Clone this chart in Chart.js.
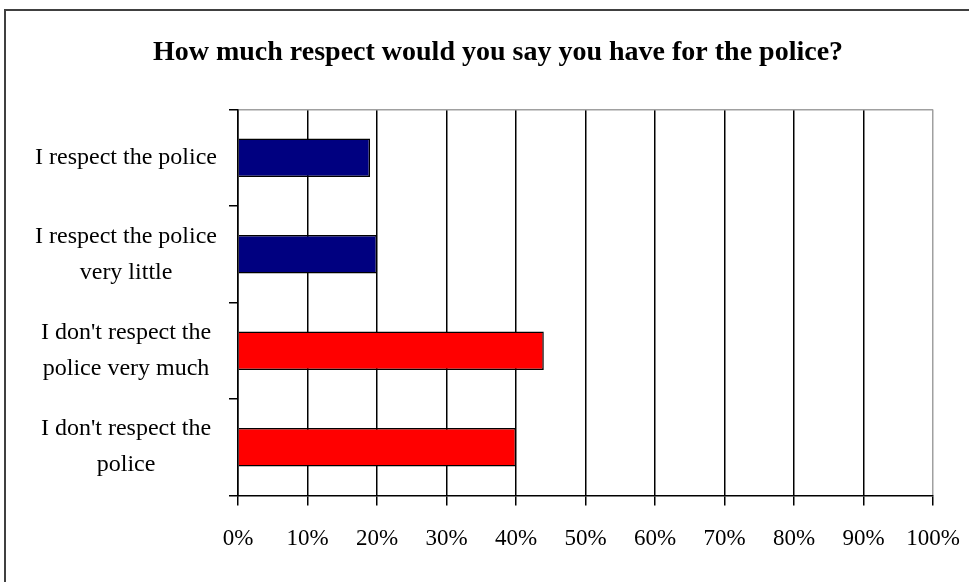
<!DOCTYPE html>
<html><head><meta charset="utf-8">
<script src="https://cdn.jsdelivr.net/npm/chart.js@4"></script>
<style>
html,body{margin:0;padding:0;background:#fff;width:969px;height:582px;overflow:hidden;}
#frame{position:absolute;left:4px;top:9px;width:1000px;height:600px;border-left:2px solid #404040;border-top:2px solid #404040;}
#wrap{position:absolute;left:0;top:0;width:969px;height:582px;}
</style></head><body>
<div id="frame"></div>
<div id="wrap"><canvas id="c" width="969" height="582"></canvas></div>
<script>
const titleText = 'How much respect would you say you have for the police?';
const categories = [
  ['I respect the police'],
  ['I respect the police', 'very little'],
  ["I don't respect the", 'police very much'],
  ["I don't respect the", 'police']
];
const values = [19, 20, 44, 40];
const xMin = 0, xMax = 100, xStep = 10;
const barColors = ['#000080', '#000080', '#FF0000', '#FF0000'];

// let the category labels use the space left of the axis box (no clipping)
const widenYAxis = {
  id: 'widenYAxis',
  afterLayout(chart) {
    const y = chart.scales.y;
    y.width += y.left;
    y.left = 0;
  }
};

new Chart(document.getElementById('c'), {
  type: 'bar',
  data: {
    labels: categories,
    datasets: [{
      data: values,
      backgroundColor: barColors,
      borderColor: '#000',
      borderWidth: 1.5,
      barPercentage: 0.4,
      categoryPercentage: 1
    }]
  },
  plugins: [widenYAxis],
  options: {
    indexAxis: 'y',
    responsive: false,
    animation: false,
    layout: { padding: { left: 63, right: 36, top: 0, bottom: 9 } },
    plugins: {
      legend: { display: false },
      tooltip: { enabled: false },
      title: {
        display: true,
        text: titleText,
        color: '#000',
        font: { family: 'Liberation Serif', size: 28, weight: 'bold', lineHeight: 1.2 },
        padding: { top: 36, bottom: 40 }
      }
    },
    scales: {
      x: {
        min: xMin, max: xMax,
        afterFit: s => { s.paddingRight = 0; s.paddingLeft = 0; },
        ticks: {
          stepSize: xStep,
          callback: v => v + '%',
          color: '#000',
          padding: 20,
          font: { family: 'Liberation Serif', size: 23, lineHeight: 1.2 }
        },
        grid: {
          color: ctx => (ctx.tick && ctx.tick.value === xMax) ? '#a0a0a0' : '#000',
          tickColor: '#000',
          lineWidth: 1.5,
          tickLength: 10
        },
        border: { color: '#000', width: 1.5 }
      },
      y: {
        afterFit: s => { s.width = 175; },
        ticks: {
          color: '#000',
          padding: 12,
          crossAlign: 'center',
          font: { family: 'Liberation Serif', size: 24, lineHeight: 1.5 }
        },
        grid: {
          offset: true,
          color: ctx => ctx.index === 0 ? '#a0a0a0' : 'rgba(0,0,0,0)',
          tickColor: '#000',
          lineWidth: 1.5,
          tickLength: 9
        },
        border: { color: '#000', width: 1.5 }
      }
    }
  }
});
</script>
</body></html>
